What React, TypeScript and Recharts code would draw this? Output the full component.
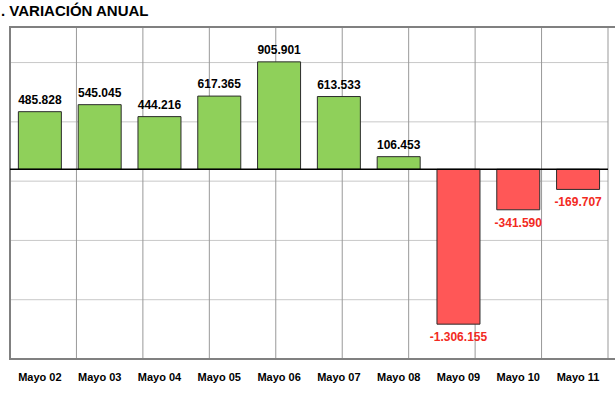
import {
  BarChart,
  Bar,
  XAxis,
  YAxis,
  CartesianGrid,
  ReferenceLine,
  ReferenceArea,
  LabelList,
  Cell,
} from "recharts";

const months = [
  "Mayo 02",
  "Mayo 03",
  "Mayo 04",
  "Mayo 05",
  "Mayo 06",
  "Mayo 07",
  "Mayo 08",
  "Mayo 09",
  "Mayo 10",
  "Mayo 11",
];
const variation = [
  485828, 545045, 444216, 617365, 905901, 613533, 106453, -1306155, -341590,
  -169707,
];
const yTicks = [-1600000, -1100000, -600000, -100000, 400000, 900000];
const yDomain = [-1600000, 1200000];

const data = months.map((m, i) => ({ month: m, value: variation[i] }));
const boundaryTicks = months.map((_, i) => i).concat(months.length);

const FONT = "'Liberation Sans', Arial, sans-serif";

// spanish style thousands: 1.306.155
const fmt = (v: number) => {
  const s = Math.abs(v)
    .toString()
    .replace(/\B(?=(\d{3})+(?!\d))/g, ".");
  return v < 0 ? `-${s}` : s;
};

const ValueLabel = (props: any) => {
  const { x, y, width, height, value } = props;
  const top = Math.min(y, y + height);
  const bottom = Math.max(y, y + height);
  const cx = x + width / 2;
  if (value < 0) {
    return (
      <text x={cx} y={bottom + 17} textAnchor="middle" fontSize={12} fontWeight="bold" fontFamily={FONT} fill="#f22a22">
        {fmt(value)}
      </text>
    );
  }
  return (
    <text x={cx} y={top - 8} textAnchor="middle" fontSize={12} fontWeight="bold" fontFamily={FONT} fill="#000">
      {fmt(value)}
    </text>
  );
};

const MonthTick = (props: any) => {
  const { x, y, payload } = props;
  return (
    <text x={x} y={y + 14} textAnchor="middle" fontSize={11} fontWeight="bold" fontFamily={FONT} fill="#000">
      {payload.value}
    </text>
  );
};

export default function App() {
  return (
    <div style={{ position: "absolute", left: 0, top: 0, width: 615, height: 394, background: "#fff" }}>
      <div
        style={{
          position: "absolute",
          left: 1,
          top: 3,
          fontFamily: FONT,
          fontWeight: "bold",
          fontSize: 15,
          lineHeight: "16px",
          color: "#000",
        }}
      >
        . VARIACIÓN ANUAL
      </div>
      <BarChart
        width={615}
        height={394}
        data={data}
        margin={{ top: 27, right: 7, left: 10, bottom: 5 }}
        barCategoryGap="14%"
      >
        <CartesianGrid xAxisId="grid" stroke="#c8c8c8" vertical={false} />
        <CartesianGrid xAxisId="grid" stroke="#999" horizontal={false} />
        <XAxis dataKey="month" axisLine={false} tickLine={false} height={30} tick={<MonthTick />} interval={0} />
        <XAxis
          xAxisId="grid"
          type="number"
          domain={[0, months.length]}
          ticks={boundaryTicks}
          hide
        />
        <YAxis hide domain={yDomain} ticks={yTicks} allowDataOverflow />
        <ReferenceArea
          xAxisId="grid"
          x1={0}
          x2={months.length}
          y1={yDomain[0]}
          y2={yDomain[1]}
          fill="none"
          stroke="#808080"
          strokeWidth={2}
          fillOpacity={0}
          ifOverflow="visible"
        />
        <Bar dataKey="value" isAnimationActive={false} stroke="#2b2b2b" strokeWidth={1}>
          {data.map((d, i) => (
            <Cell key={i} fill={d.value < 0 ? "#ff5757" : "#8fd05a"} />
          ))}
          <LabelList dataKey="value" content={<ValueLabel />} />
        </Bar>
        <ReferenceLine y={0} stroke="#000" strokeWidth={1.5} />
      </BarChart>
    </div>
  );
}
